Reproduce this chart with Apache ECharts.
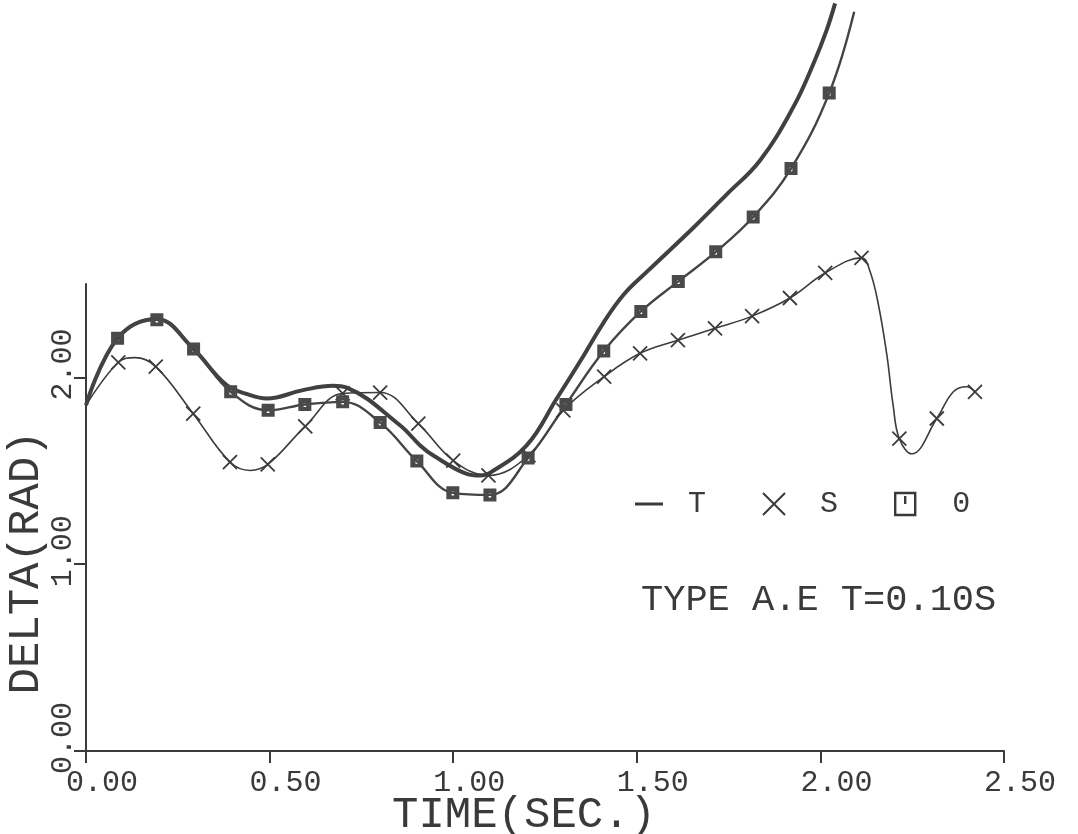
<!DOCTYPE html>
<html>
<head>
<meta charset="utf-8">
<title>DELTA vs TIME</title>
<script src="https://cdn.jsdelivr.net/npm/echarts@6/dist/echarts.min.js"></script>
<style>
  html, body { margin: 0; padding: 0; background: #ffffff; }
  #chart { width: 1078px; height: 834px; }
</style>
</head>
<body>
<div id="chart"></div>
<script>
// Axis ticks
const xTicks = [0, 0.5, 1.0, 1.5, 2.0, 2.5];
const yTicks = [0, 1, 2];

// Curve T (heavy solid line, no markers)
const tTime  = [0, 0.086, 0.193, 0.291, 0.383, 0.447, 0.492, 0.591, 0.673, 0.710, 0.855, 0.910, 0.946, 1.037, 1.073, 1.100, 1.200, 1.282, 1.350, 1.410, 1.465, 1.530, 1.654, 1.745, 1.835, 1.926, 1.981, 2.017, 2.040];
const tDelta = [1.851, 2.210, 2.313, 2.156, 1.959, 1.905, 1.887, 1.932, 1.955, 1.945, 1.744, 1.636, 1.582, 1.484, 1.475, 1.489, 1.636, 1.887, 2.100, 2.295, 2.445, 2.570, 2.801, 2.980, 3.160, 3.446, 3.679, 3.859, 4.002];

// Curve S (thin line, cross markers where sMark is 1)
const sTime  = [0, 0.088, 0.134, 0.190, 0.292, 0.392, 0.447, 0.495, 0.597, 0.699, 0.801, 0.905, 1.000, 1.096, 1.205, 1.300, 1.411, 1.509, 1.612, 1.713, 1.814, 1.917, 2.013, 2.112, 2.135, 2.158, 2.181, 2.198, 2.215, 2.249, 2.317, 2.362, 2.398, 2.421];
const sDelta = [1.851, 2.081, 2.106, 2.058, 1.806, 1.547, 1.502, 1.534, 1.738, 1.914, 1.919, 1.753, 1.555, 1.475, 1.582, 1.824, 2.004, 2.129, 2.199, 2.263, 2.328, 2.425, 2.559, 2.640, 2.568, 2.389, 2.120, 1.851, 1.672, 1.591, 1.780, 1.923, 1.950, 1.923];
const sMark  = [0, 1, 0, 1, 1, 1, 0, 1, 1, 1, 1, 1, 1, 1, 1, 1, 1, 1, 1, 1, 1, 1, 1, 1, 0, 0, 0, 0, 1, 0, 1, 0, 0, 1];

// Curve O (medium line, square markers where oMark is 1)
const oTime  = [0, 0.086, 0.193, 0.293, 0.394, 0.496, 0.596, 0.699, 0.801, 0.901, 0.999, 1.100, 1.204, 1.307, 1.410, 1.511, 1.613, 1.715, 1.817, 1.920, 2.024, 2.092];
const oDelta = [1.851, 2.210, 2.308, 2.152, 1.923, 1.824, 1.855, 1.869, 1.758, 1.552, 1.382, 1.371, 1.568, 1.855, 2.141, 2.353, 2.514, 2.672, 2.859, 3.118, 3.522, 3.957];
const oMark  = [0, 1, 1, 1, 1, 1, 1, 1, 1, 1, 1, 1, 1, 1, 1, 1, 1, 1, 1, 1, 1, 0];

const INK = '#3a3a3a';
const FONT = 'Liberation Mono';

// plotter-style symbols
const CROSS = 'path://M0,0 L20,20 M20,0 L0,20';
const BOX_DOT = 'path://M0,0 H10 V10 H0 Z M4,4 V7 H6 V4 Z';
const LEGEND_BOX = 'path://M0,0 H20 V22 H0 Z M10,3 V11';
const DASH = 'path://M0,0 H28 V3 H0 Z';

function points(time, delta, mark) {
  return time.map((t, i) => {
    const item = { value: [t, delta[i]] };
    if (mark && !mark[i]) item.symbol = 'none';
    return item;
  });
}

const chart = echarts.init(document.getElementById('chart'), null, { renderer: 'canvas' });

chart.setOption({
  animation: false,
  backgroundColor: '#ffffff',
  textStyle: { fontFamily: FONT, color: INK },
  grid: { left: 86, right: 74, top: 284, bottom: 83, containLabel: false, outerBoundsMode: 'none' },
  title: {
    text: 'TYPE A.E T=0.10S',
    left: 641, top: 582, padding: 0,
    textStyle: { fontFamily: FONT, fontSize: 37, fontWeight: 'normal', color: INK }
  },
  legend: {
    left: 635, top: 489, padding: 0,
    itemWidth: 28, itemHeight: 22, itemGap: 56,
    selectedMode: false,
    textStyle: { fontFamily: FONT, fontSize: 30, color: INK },
    data: [
      { name: 'T', icon: DASH, itemStyle: { color: INK, borderWidth: 0 }, textStyle: { padding: [0, 0, 0, 20] } },
      { name: 'S', icon: CROSS, itemStyle: { color: 'transparent', borderColor: INK, borderWidth: 2 }, textStyle: { padding: [0, 0, 0, 27] } },
      { name: '0', icon: LEGEND_BOX, itemStyle: { color: 'transparent', borderColor: INK, borderWidth: 2.4 }, textStyle: { padding: [0, 0, 0, 28] } }
    ]
  },
  xAxis: {
    type: 'value', min: 0, max: 2.5, interval: 0.5,
    name: 'TIME(SEC.)', nameLocation: 'middle', nameGap: 42, nameMoveOverlap: false,
    nameTextStyle: { fontFamily: FONT, fontSize: 44, color: INK, padding: [0, 42, 0, 0] },
    axisLine: { show: true, onZero: false, lineStyle: { color: INK, width: 2 } },
    axisTick: { show: true, length: 12, lineStyle: { color: INK, width: 2 }, customValues: xTicks },
    axisLabel: {
      customValues: xTicks, margin: 17, fontFamily: FONT, fontSize: 30, color: INK,
      padding: [0, 0, 0, 32],
      formatter: v => v.toFixed(2)
    },
    splitLine: { show: false }
  },
  yAxis: {
    type: 'value', min: 0, max: 2.5,
    name: 'DELTA(RAD)', nameLocation: 'middle', nameGap: 38, nameRotate: 90, nameMoveOverlap: false,
    nameTextStyle: { fontFamily: FONT, fontSize: 44, color: INK, padding: [0, 90, 0, 0] },
    axisLine: { show: true, onZero: false, lineStyle: { color: INK, width: 2 } },
    axisTick: { show: true, length: 12, lineStyle: { color: INK, width: 2 }, customValues: yTicks },
    axisLabel: {
      customValues: yTicks, rotate: 90, margin: 8, fontFamily: FONT, fontSize: 30, color: INK,
      padding: [0, 0, 0, 26],
      formatter: v => v.toFixed(2)
    },
    splitLine: { show: false }
  },
  series: [
    {
      name: 'T', type: 'line', clip: false, smooth: 0.4,
      symbol: 'none',
      lineStyle: { color: '#404040', width: 4 },
      itemStyle: { color: '#404040' },
      data: points(tTime, tDelta, null)
    },
    {
      name: 'S', type: 'line', clip: false, smooth: 0.4,
      symbol: CROSS, symbolSize: 14,
      lineStyle: { color: '#3c3c3c', width: 1.6 },
      itemStyle: { color: 'transparent', borderColor: '#3c3c3c', borderWidth: 1.8 },
      data: points(sTime, sDelta, sMark)
    },
    {
      name: '0', type: 'line', clip: false, smooth: 0.4,
      symbol: BOX_DOT, symbolSize: 13,
      lineStyle: { color: '#444444', width: 2.4 },
      itemStyle: { color: '#4a4a4a', borderWidth: 0 },
      data: points(oTime, oDelta, oMark)
    }
  ]
});
</script>
</body>
</html>
